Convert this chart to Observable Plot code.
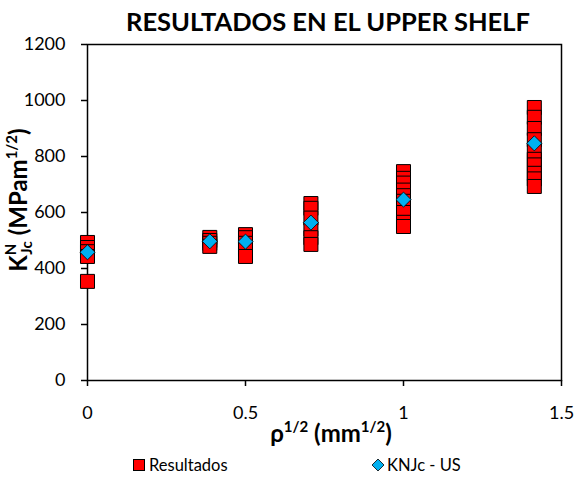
<!DOCTYPE html>
<html><head><meta charset="utf-8">
<script src="https://cdn.jsdelivr.net/npm/d3@7"></script>
<script src="https://cdn.jsdelivr.net/npm/@observablehq/plot@0.6"></script>
<style>
body{margin:0;background:#fff;font-family:Lato,"Open Sans",sans-serif;}
#wrap{position:relative;width:575px;height:477px;}
#title{position:absolute;left:328px;top:6px;transform:translateX(-50%);white-space:nowrap;font-weight:bold;font-size:25.5px;color:#000;z-index:2;}
#chart{position:absolute;left:0;top:26px;}
.leg{position:absolute;top:455px;font-size:16.5px;display:flex;align-items:center;color:#000;}
</style></head>
<body><div id="wrap">
<div id="chart"></div>
<div id="title">RESULTADOS EN EL UPPER SHELF</div>
<div class="leg" style="left:133px"><span style="display:inline-block;width:10px;height:10px;background:#ff0000;border:1px solid #000;margin-right:4px"></span>Resultados</div>
<div class="leg" style="left:371px"><svg width="14" height="14" style="margin-right:2px"><path d="M7,1L13,7L7,13L1,7Z" fill="#00b0f0" stroke="#000" stroke-width="0.8"/></svg>KNJc - US</div>
</div>
<script>
// rho^1/2 positions (mm^1/2)
const rhoSqrt = [0, 0.387, 0.5, 0.707, 1, 1.414];
// Resultados: K^N_Jc values at each rho^1/2
const res0 = [493, 475, 460, 443, 354];
const res1 = [511, 500, 490, 479];
const res2 = [521, 510, 490, 470, 443];
const res3 = [632, 615, 580, 540, 510, 486];
const res4 = [746, 722, 705, 680, 660, 640, 600, 565, 550];
const res5 = [975, 940, 900, 860, 820, 790, 770, 740, 720, 693];
// KNJc - US
const knjcUS = [458, 497, 496, 564, 646, 847];
// tick labels
const xTicks = [0, 0.5, 1, 1.5];
const yTicks = [0, 200, 400, 600, 800, 1000, 1200];

const resGroups = [res0, res1, res2, res3, res4, res5];
const resData = resGroups.flatMap((g, i) => g.map(v => ({x: rhoSqrt[i], y: v})));
const usData = rhoSqrt.map((x, i) => ({x, y: knjcUS[i]}));

const W = 575, H = 429;
const plot = Plot.plot({
  width: W, height: H,
  marginLeft: 87, marginRight: 14, marginTop: 18, marginBottom: 75,
  style: {fontFamily: "Lato, 'Open Sans', sans-serif", fontSize: "18px", color: "#000", background: "transparent"},
  x: {domain: [0, 1.5], label: null},
  y: {domain: [0, 1200], label: null},
  marks: [
    Plot.frame({stroke: "#000", strokeWidth: 1.5}),
    Plot.axisX({ticks: xTicks, tickFormat: d => String(d), tickSize: 6, tickPadding: 20, label: null, strokeWidth: 1.5}),
    Plot.axisY({ticks: yTicks, tickFormat: d => String(d), tickSize: 6, tickPadding: 16, label: null, strokeWidth: 1.5}),
    Plot.dot(resData, {x: "x", y: "y", symbol: "square", r: 7.9, fill: "#ff0000", stroke: "#000", strokeWidth: 1}),
    Plot.dot(usData, {x: "x", y: "y", symbol: "diamond2", r: 6.8, fill: "#00b0f0", stroke: "#000", strokeWidth: 0.8})
  ]
});
document.getElementById("chart").appendChild(plot);

const svg = d3.select(plot);
// x axis label
const xl = svg.append("text").attr("x", 331).attr("y", 416).attr("text-anchor", "middle")
  .attr("font-weight", "bold").attr("font-size", 24).attr("fill", "#000");
xl.append("tspan").text("ρ");
xl.append("tspan").attr("font-size", 15).attr("dy", -10).text("1/2");
xl.append("tspan").attr("dy", 10).text(" (mm");
xl.append("tspan").attr("font-size", 15).attr("dy", -10).text("1/2");
xl.append("tspan").attr("dy", 10).text(")");
// y axis label
const yl = svg.append("text").attr("transform", "translate(27,174) rotate(-90)").attr("text-anchor", "middle")
  .attr("font-weight", "bold").attr("font-size", 24).attr("fill", "#000");
yl.append("tspan").text("K");
yl.append("tspan").attr("font-size", 15).attr("dy", -11).text("N");
yl.append("tspan").attr("font-size", 15).attr("dy", 16).attr("dx", -11).text("Jc");
yl.append("tspan").attr("dy", -5).text(" (MPam");
yl.append("tspan").attr("font-size", 15).attr("dy", -10).text("1/2");
yl.append("tspan").attr("dy", 10).text(")");
</script>
</body></html>
